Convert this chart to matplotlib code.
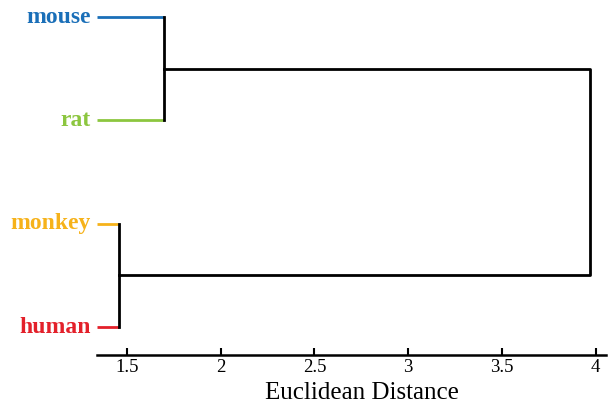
import matplotlib
matplotlib.use("Agg")
import matplotlib.pyplot as plt

# Data
leaves = ["mouse", "rat", "monkey", "human"]
leaf_colors = ["#1a6fb8", "#8cc63f", "#f6b21a", "#e3202a"]
leaf_start = 1.34            # where leaf branches begin (axis left)
merge_mouse_rat = 1.70
merge_monkey_human = 1.457
merge_root = 3.97
xticks = [1.5, 2, 2.5, 3, 3.5, 4]
xticklabels = ["1.5", "2", "2.5", "3", "3.5", "4"]
xlabel = "Euclidean Distance"

serif = ["Liberation Serif", "DejaVu Serif"]

fig = plt.figure(figsize=(6.08, 4.07), dpi=100)
ax = fig.add_axes([97/608, 1 - 355/407, (606-97)/608, 355/407])

ypos = {name: i for i, name in enumerate(leaves)}
lw = 2.0

# leaf branches
pairs = [("mouse", merge_mouse_rat), ("rat", merge_mouse_rat),
         ("monkey", merge_monkey_human), ("human", merge_monkey_human)]
for (name, h), c in zip(pairs, leaf_colors):
    y = ypos[name]
    ax.plot([leaf_start, h], [y, y], color=c, lw=lw, solid_capstyle="butt")
    ax.text(leaf_start - 0.035, y, name, color=c, ha="right", va="center",
            fontsize=17, fontweight="bold", family=serif)

# cluster verticals
ax.plot([merge_mouse_rat]*2, [ypos["mouse"], ypos["rat"]], color="black", lw=lw)
ax.plot([merge_monkey_human]*2, [ypos["monkey"], ypos["human"]], color="black", lw=lw)
y1 = (ypos["mouse"] + ypos["rat"]) / 2
y2 = (ypos["monkey"] + ypos["human"]) / 2
ax.plot([merge_mouse_rat, merge_root, merge_root, merge_monkey_human],
        [y1, y1, y2, y2], color="black", lw=lw)

ax.set_xlim(1.34, 4.056)
ax.set_ylim(3.27, -0.165)
for s in ["top", "right", "left"]:
    ax.spines[s].set_visible(False)
ax.spines["bottom"].set_linewidth(1.8)
ax.set_yticks([])
ax.set_xticks(xticks)
ax.set_xticklabels(xticklabels, family=serif, fontsize=13.5)
ax.tick_params(axis="x", direction="in", length=5, width=1.5, pad=3)
ax.patch.set_alpha(0)

fig.text(362/608, 1 - 393/407, xlabel, ha="center", va="center",
         family=serif, fontsize=18)

fig.savefig("out.png", dpi=100)
